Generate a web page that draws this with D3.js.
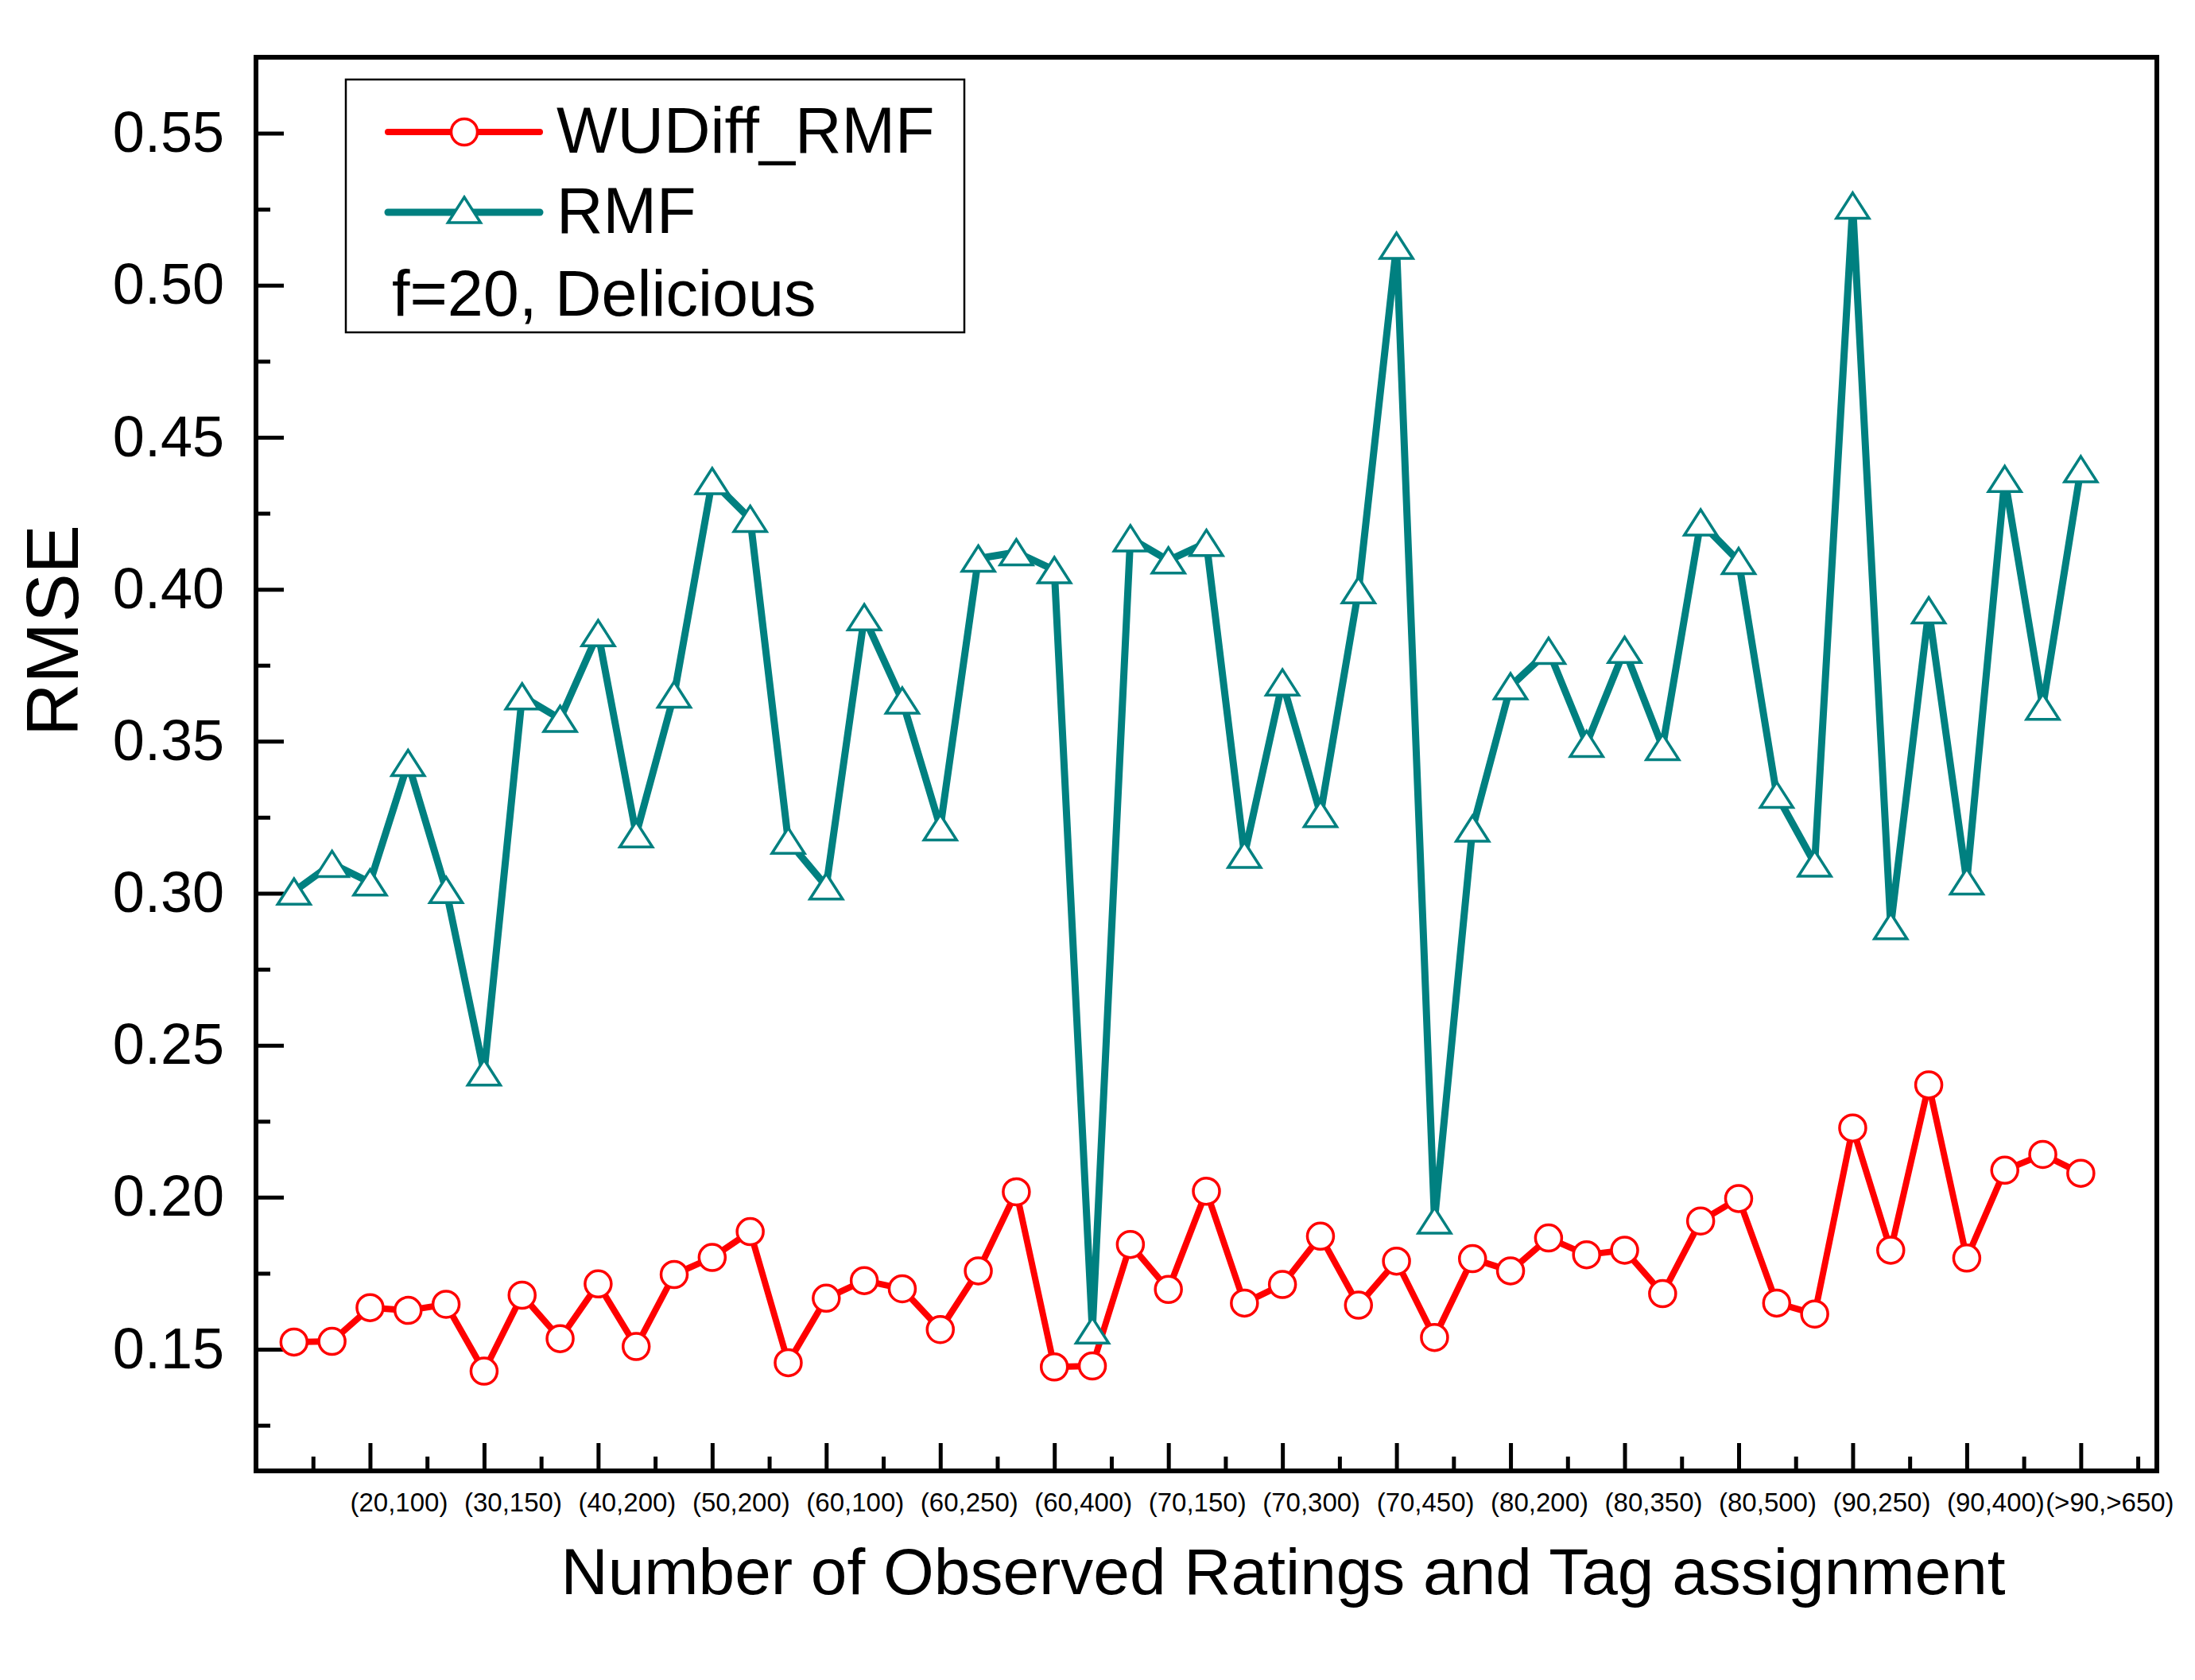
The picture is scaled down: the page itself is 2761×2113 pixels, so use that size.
<!DOCTYPE html>
<html>
<head>
<meta charset="utf-8">
<script src="https://cdn.jsdelivr.net/npm/d3@7/dist/d3.min.js"></script>
<style>
  html, body { margin: 0; padding: 0; background: #fff; }
  svg { display: block; }
  text { font-family: "Liberation Sans", Arial, sans-serif; fill: #000; }
</style>
</head>
<body>
<svg id="chart" width="2761" height="2113"></svg>
<script>
// ---- data ----
const tickLabels = ["(20,100)","(30,150)","(40,200)","(50,200)","(60,100)","(60,250)","(60,400)","(70,150)",
                    "(70,300)","(70,450)","(80,200)","(80,350)","(80,500)","(90,250)","(90,400)","(>90,>650)"];
const tickPositions = [3,6,9,12,15,18,21,24,27,30,33,36,39,42,45,48];
const minorXTicks = [1.5,4.5,7.5,10.5,13.5,16.5,19.5,22.5,25.5,28.5,31.5,34.5,37.5,40.5,43.5,46.5,49.5];
const yTicks = [0.15,0.20,0.25,0.30,0.35,0.40,0.45,0.50,0.55];
const yMinorTicks = [0.125,0.175,0.225,0.275,0.325,0.375,0.425,0.475,0.525];

const wudiffRMF = [0.1524,0.1526,0.1637,0.1628,0.1648,0.1428,0.1678,0.1535,0.1715,0.1509,
                   0.1746,0.1802,0.1887,0.1456,0.1668,0.1726,0.1699,0.1565,0.1758,0.2018,
                   0.1442,0.1445,0.1845,0.1697,0.2020,0.1652,0.1713,0.1872,0.1645,0.1790,
                   0.1539,0.1798,0.1758,0.1866,0.1811,0.1826,0.1683,0.1922,0.1996,0.1652,
                   0.1616,0.2228,0.1826,0.2370,0.1800,0.2089,0.2141,0.2079];
const rmf = [0.3006,0.3097,0.3036,0.3429,0.3011,0.2411,0.3648,0.3574,0.3856,0.3194,
             0.3654,0.4356,0.4232,0.3173,0.3023,0.3908,0.3634,0.3217,0.4101,0.4122,
             0.4063,0.1562,0.4168,0.4095,0.4153,0.3127,0.3694,0.3261,0.3997,0.5130,
             0.1924,0.3213,0.3681,0.3798,0.3492,0.3801,0.3481,0.4220,0.4093,0.3324,
             0.3098,0.5262,0.2892,0.3931,0.3039,0.4363,0.3614,0.4395];

const seriesNames = ["WUDiff_RMF", "RMF"];
const noteText = "f=20, Delicious";
const xTitle = "Number of Observed Ratings and Tag assignment";
const yTitle = "RMSE";

// ---- layout ----
const L = 322, R = 2713, T = 72, B = 1850;
const RED = "#FF0000", TEAL = "#008080";

const svg = d3.select("#chart");
const x = d3.scaleLinear().domain([0, 50]).range([L, R]);
const y = d3.scaleLinear().domain([0.11, 0.575]).range([B, T]);

// axes (ticks pointing inward)
const gx = svg.append("g").attr("transform", `translate(0,${B})`)
  .call(d3.axisBottom(x).tickValues(tickPositions)
        .tickFormat((d, i) => tickLabels[i]).tickSize(-35).tickPadding(28));
gx.select(".domain").remove();
gx.selectAll("line").attr("stroke", "#000").attr("stroke-width", 5);
gx.selectAll("text").attr("font-size", 33).attr("dx", 36)
  .style("font-family", '"Liberation Sans", Arial, sans-serif');

const gxm = svg.append("g").attr("transform", `translate(0,${B})`)
  .call(d3.axisBottom(x).tickValues(minorXTicks).tickFormat("").tickSize(-18));
gxm.select(".domain").remove();
gxm.selectAll("line").attr("stroke", "#000").attr("stroke-width", 5);

const gy = svg.append("g").attr("transform", `translate(${L},0)`)
  .call(d3.axisLeft(y).tickValues(yTicks).tickFormat(d3.format(".2f")).tickSize(-35).tickPadding(40));
gy.select(".domain").remove();
gy.selectAll("line").attr("stroke", "#000").attr("stroke-width", 5);
gy.selectAll("text").attr("font-size", 72)
  .style("font-family", '"Liberation Sans", Arial, sans-serif');

const gym = svg.append("g").attr("transform", `translate(${L},0)`)
  .call(d3.axisLeft(y).tickValues(yMinorTicks).tickFormat("").tickSize(-18));
gym.select(".domain").remove();
gym.selectAll("line").attr("stroke", "#000").attr("stroke-width", 5);

// frame
svg.append("rect").attr("x", L).attr("y", T).attr("width", R - L).attr("height", B - T)
  .attr("fill", "none").attr("stroke", "#000").attr("stroke-width", 6);

// series
const idx = d3.range(1, wudiffRMF.length + 1);
const line = d3.line().x(d => x(d[0])).y(d => y(d[1]));
const triPath = "M0,-16L20.5,16L-20.5,16Z";

function drawSeries(values, color, marker, lw) {
  const pts = values.map((v, i) => [idx[i], v]);
  svg.append("path").datum(pts).attr("d", line)
    .attr("fill", "none").attr("stroke", color).attr("stroke-width", lw)
    .attr("stroke-linejoin", "round").attr("stroke-linecap", "round");
  const g = svg.append("g");
  if (marker === "circle") {
    g.selectAll("circle").data(pts).join("circle")
      .attr("cx", d => x(d[0])).attr("cy", d => y(d[1])).attr("r", 16.5)
      .attr("fill", "#fff").attr("stroke", color).attr("stroke-width", 3.5);
  } else {
    g.selectAll("path").data(pts).join("path")
      .attr("d", triPath)
      .attr("transform", d => `translate(${x(d[0])},${y(d[1])})`)
      .attr("fill", "#fff").attr("stroke", color).attr("stroke-width", 3.5);
  }
}
drawSeries(wudiffRMF, RED, "circle", 8);
drawSeries(rmf, TEAL, "triangle", 9);

// legend
const lg = svg.append("g");
lg.append("rect").attr("x", 435).attr("y", 100).attr("width", 778).attr("height", 318)
  .attr("fill", "#fff").attr("stroke", "#000").attr("stroke-width", 2.5);
lg.append("line").attr("x1", 488).attr("x2", 679).attr("y1", 166).attr("y2", 166)
  .attr("stroke", RED).attr("stroke-width", 8).attr("stroke-linecap", "round");
lg.append("circle").attr("cx", 584).attr("cy", 166).attr("r", 16.5)
  .attr("fill", "#fff").attr("stroke", RED).attr("stroke-width", 3.5);
lg.append("line").attr("x1", 488).attr("x2", 679).attr("y1", 267).attr("y2", 267)
  .attr("stroke", TEAL).attr("stroke-width", 9).attr("stroke-linecap", "round");
lg.append("path").attr("d", triPath).attr("transform", "translate(584,264)")
  .attr("fill", "#fff").attr("stroke", TEAL).attr("stroke-width", 3.5);
lg.append("text").attr("x", 700).attr("y", 192).attr("font-size", 81).text(seriesNames[0]);
lg.append("text").attr("x", 700).attr("y", 293).attr("font-size", 81).text(seriesNames[1]);
lg.append("text").attr("x", 493).attr("y", 397).attr("font-size", 81).text(noteText);

// axis titles
svg.append("text").attr("x", 1614).attr("y", 2005).attr("text-anchor", "middle")
  .attr("font-size", 82).text(xTitle);
svg.append("text").attr("transform", "translate(98,793) rotate(-90)")
  .attr("text-anchor", "middle").attr("font-size", 92).text(yTitle);
</script>
</body>
</html>
